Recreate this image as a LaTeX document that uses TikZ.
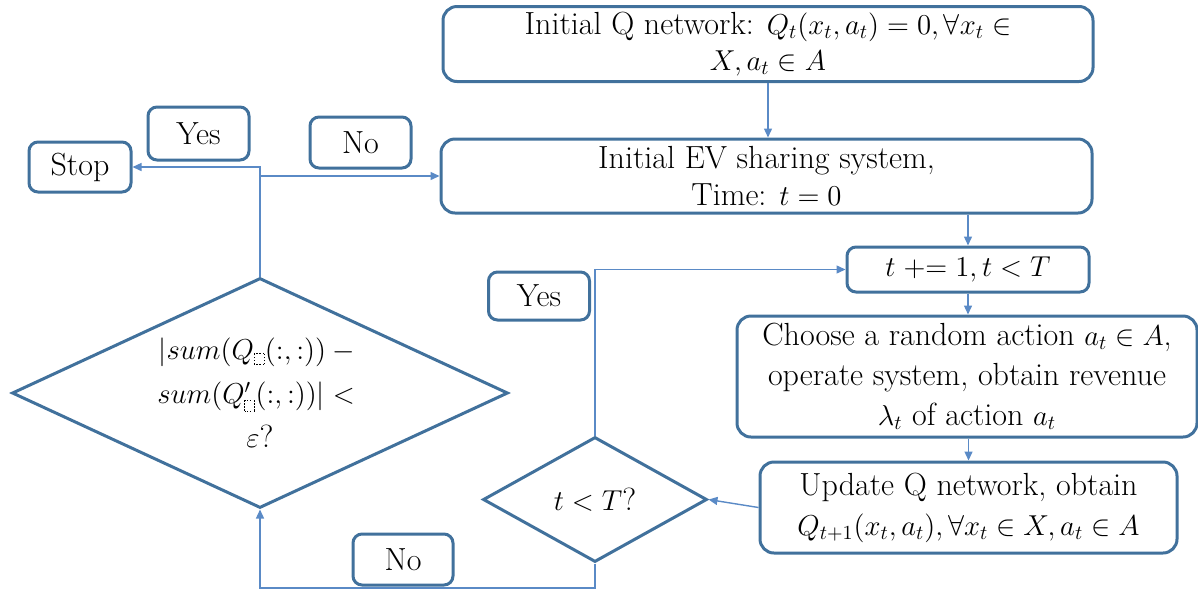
\documentclass[tikz,border=0pt]{standalone}
\usepackage{fontspec}
\DeclareMathSizes{16}{14.4}{10}{7}
\newcommand{\txtfont}{\rmfamily}
\usetikzlibrary{arrows.meta,shapes.geometric}
\definecolor{boxblue}{HTML}{41719C}
\definecolor{lineblue}{HTML}{5A8AC6}
\newcommand{\phbox}{{\setlength{\unitlength}{0.5pt}\dashbox{1.5}(10,11){}}}
\tikzset{
  procbox/.style={draw=boxblue, line width=1.5pt, rounded corners=7pt, fill=white, align=center, inner sep=0pt},
  smallbox/.style={draw=boxblue, line width=1.5pt, rounded corners=4.5pt, fill=white, align=center, inner sep=0pt},
  decbox/.style={draw=boxblue, line width=1.5pt, shape=diamond, inner sep=0pt, fill=white},
  conn/.style={draw=lineblue, line width=0.7pt, -{Triangle[length=4.5pt,width=4pt]}},
  bigtext/.style={font=\txtfont\fontsize{16}{19.5}\selectfont}
}
\begin{document}
\begin{tikzpicture}[x=0.5pt,y=-0.5pt]
\useasboundingbox (0,0) rectangle (1198,596);
% process boxes
\node[procbox, font=\txtfont\fontsize{16}{18}\selectfont, minimum width=325pt, minimum height=37.5pt] (b1) at (768,44)
  {Initial Q network: $Q_t(x_t,a_t)=0,\forall x_t\in$\\$X,a_t\in A$};
\node[procbox, font=\txtfont\fontsize{16}{18.5}\selectfont, minimum width=325.5pt, minimum height=37pt] (b2) at (766.5,176)
  {Initial EV sharing system,\\Time: $t=0$};
\node[smallbox, bigtext, minimum width=121pt, minimum height=22.5pt] (b3) at (968,269.5)
  {$t\mathrel{+{=}}1,t<T$};
\node[procbox, font=\txtfont\fontsize{16}{20}\selectfont, minimum width=230pt, minimum height=60.5pt] (b4) at (967,376.5)
  {Choose a random action $a_t\in A$,\\operate system, obtain revenue\\$\lambda_t$ of action $a_t$};
\node[procbox, font=\txtfont\fontsize{16}{20}\selectfont, minimum width=208.5pt, minimum height=45.5pt] (b5) at (968.5,507.5)
  {Update Q network, obtain\\$Q_{t+1}(x_t,a_t),\forall x_t\in X,a_t\in A$};
% label boxes
\node[smallbox, bigtext, minimum width=51pt, minimum height=25pt] (stop) at (80,167) {Stop};
\node[smallbox, bigtext, minimum width=50.5pt, minimum height=26.5pt] (yes1) at (198.5,133.5) {Yes};
\node[smallbox, bigtext, minimum width=50.5pt, minimum height=25.5pt] (no1) at (360.5,142.5) {No};
\node[smallbox, bigtext, minimum width=50.5pt, minimum height=24pt] (yes2) at (539,296) {Yes};
\node[smallbox, bigtext, minimum width=50pt, minimum height=25.5pt] (no2) at (403,559.5) {No};
% decisions
\node[decbox, minimum width=112pt, minimum height=62.5pt] (sd) at (595,499.5) {};
\node[bigtext] (sdt) at (sd.center) {$t<T$?};
\node[decbox, minimum width=248pt, minimum height=115pt] (bd) at (260,393) {};
\node[align=center, font=\txtfont\fontsize{16}{22}\selectfont] (bdt) at (bd.center)
  {$|sum\bigl(Q_{\phbox}(:,:)\bigr)-{}$\\$sum\Bigl(Q'_{\phbox}(:,:)\Bigr)|<{}$\\$\varepsilon$?};
% connectors
\draw[conn] (b1.south) -- (b1.south |- b2.north);
\draw[conn] (b3.north |- b2.south) -- (b3.north);
\draw[conn] (b3.south) -- (b3.south |- b4.north);
\draw[conn] (b5.north |- b4.south) -- (b5.north);
\draw[conn] (b5.west) -- (sd.east);
\draw[conn] (sd.north) |- (b3.west);
\coordinate (lp) at (595,588);
\draw[conn] (sd.south) -- (lp) -| (bd.south);
\draw[conn] (bd.north) |- (stop.east);
\draw[conn] (bd.north |- b2.west) -- (b2.west);
\end{tikzpicture}
\end{document}
